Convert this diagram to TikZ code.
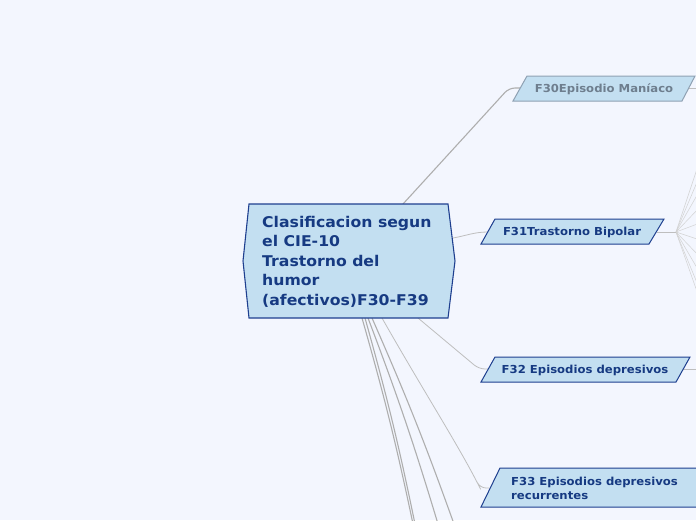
\documentclass[tikz,border=0pt]{standalone}
\usepackage{fontspec}
\setmainfont[FakeStretch=1.06]{DejaVu Sans}
\definecolor{bg}{HTML}{F3F6FE}
\definecolor{boxfill}{HTML}{C3DFF1}
\definecolor{boxline}{HTML}{1E3F8F}
\definecolor{txt}{HTML}{163A82}
\definecolor{greyline}{HTML}{8FA1B3}
\definecolor{greytxt}{HTML}{6E7E8E}
\definecolor{conn}{HTML}{AEAEAE}
\definecolor{fan}{HTML}{D2D2D2}
\tikzset{
  shapebox/.style={fill=boxfill,draw=boxline,line width=1.1pt,line join=miter},
  greybox/.style={fill=boxfill,draw=greyline,line width=1pt},
  lbl/.style={text=txt,font=\fontsize{11}{13}\selectfont\bfseries,inner sep=0pt},
  connector/.style={draw=conn,line width=1.1pt,rounded corners=6pt},
  thinconn/.style={draw=conn!80,line width=0.8pt,rounded corners=6pt},
  fanline/.style={draw=fan,line width=0.5pt}
}
\begin{document}
\begin{tikzpicture}[x=1pt,y=-1pt]
\useasboundingbox (0,0) rectangle (696,520);
\clip (0,0) rectangle (696,520);
\fill[bg] (0,0) rectangle (696,520);

% coordinates for connector ends
\coordinate (c30) at (403,204);
\coordinate (c31) at (453,238);
\coordinate (c32) at (418,318);
\coordinate (c33) at (382,318);
\coordinate (d1) at (362,318);
\coordinate (d2) at (365,318);
\coordinate (d3) at (368,318);
\coordinate (d4) at (372,318);
\coordinate (e1) at (413,524);
\coordinate (e2) at (415,524);
\coordinate (e3) at (438,524);
\coordinate (e4) at (454,524);
\coordinate (f30in) at (520,88);
\coordinate (f31in) at (488,232);
\coordinate (f32in) at (488,369);
\coordinate (f33in) at (489,488);
\coordinate (f30out) at (688,88);
\coordinate (f30end) at (700,88);
\coordinate (f31out) at (657,232);
\coordinate (hub) at (676,232);
\coordinate (f32out) at (683,369);
\coordinate (f32end) at (700,369);

% connectors from the central topic
\draw[connector] (c30) -- (509,88) -- (f30in);
\draw[thinconn] (c31) to[out=10,in=180] (f31in);
\draw[thinconn] (c32) -- (479,369) -- (f32in);
\draw[thinconn] (c33) .. controls (420,385) and (455,440) .. (478,484) -- (480,488) -- (f33in);
\draw[connector] (d1) to[bend left=2] (e1);
\draw[connector] (d2) to[bend left=2] (e2);
\draw[connector] (d3) to[bend left=2] (e3);
\draw[connector] (d4) to[bend left=2] (e4);

% right-side connectors
\draw[thinconn] (f30out) -- (f30end);
\draw[thinconn] (f31out) -- (hub);
\draw[thinconn] (f32out) -- (f32end);
\foreach \yy [count=\i] in {160,175,190,207,223,240,257,273,290,300}{
  \coordinate (fe\i) at (700,\yy);
  \draw[fanline] (hub) -- (fe\i);
}

% central topic
\draw[shapebox] (243,261) -- (249,204) -- (448,204) -- (455,261) -- (448,318) -- (249,318) -- cycle;
\node[lbl,anchor=north west,align=left,font=\fontsize{14.8}{19.5}\selectfont\bfseries] (center) at (262,216)
  {Clasificacion segun\\el CIE-10\\Trastorno del\\humor\\(afectivos)F30-F39};

% F30
\draw[greybox] (527,76) -- (695,76) -- (682,101) -- (513,101) -- cycle;
\node[lbl,text=greytxt] (f30) at (604,89) {F30Episodio Maníaco};

% F31
\draw[shapebox,line width=1pt] (495,219) -- (664,219) -- (649,244) -- (481,244) -- cycle;
\node[lbl] (f31) at (572,232.5) {F31Trastorno Bipolar};

% F32
\draw[shapebox,line width=1pt] (495,357) -- (690,357) -- (676,382) -- (481,382) -- cycle;
\node[lbl] (f32) at (585,370) {F32 Episodios depresivos};

% F33
\draw[shapebox,line width=1pt] (500,468) -- (705,468) -- (705,507) -- (481,507) -- cycle;
\node[lbl,anchor=west,align=left,font=\fontsize{11}{14}\selectfont\bfseries] (f33) at (511,488.5)
  {F33 Episodios depresivos\\recurrentes};
\end{tikzpicture}
\end{document}
